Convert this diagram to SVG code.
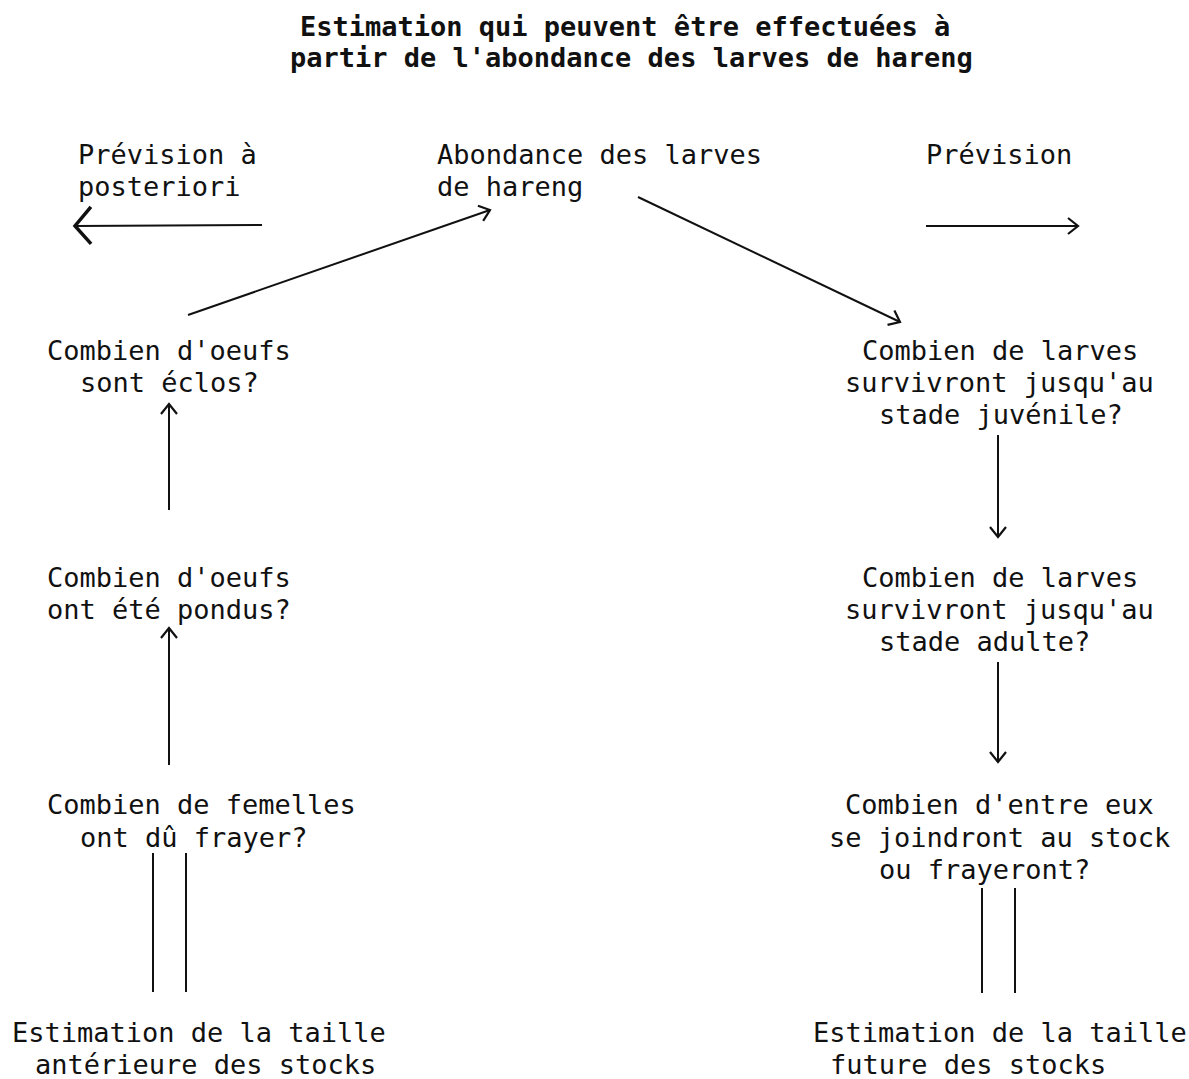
<svg xmlns="http://www.w3.org/2000/svg" width="1189" height="1079" viewBox="0 0 1189 1079">
<style>
text{font-family:"DejaVu Sans Mono","Liberation Mono",monospace;font-size:27px;fill:#111}
.title{font-weight:bold}
.c line,.c path{stroke:#111;stroke-width:2;fill:none}
</style>
<defs>
<marker id="ah" markerUnits="userSpaceOnUse" markerWidth="24" markerHeight="24" refX="12" refY="8" orient="auto" overflow="visible">
<path d="M2,0 L12,8 L2,16" fill="none" stroke="#111" stroke-width="2.2"/>
</marker>
<marker id="ahBig" markerUnits="userSpaceOnUse" markerWidth="30" markerHeight="40" refX="16" refY="18" orient="auto" overflow="visible">
<path d="M0,0 L16,18 L0,37" fill="none" stroke="#111" stroke-width="3.5"/>
</marker>
</defs>
<rect width="1189" height="1079" fill="#fff"/>
<g id="title">
<text class="title" x="300" y="36">Estimation qui peuvent être effectuées à</text>
<text class="title" x="290" y="67">partir de l'abondance des larves de hareng</text>
</g>
<g id="prevision-posteriori"><text x="78" y="164">Prévision à</text><text x="78" y="196">posteriori</text></g>
<g id="abondance"><text x="437" y="164">Abondance des larves</text><text x="437" y="196">de hareng</text></g>
<g id="prevision"><text x="926" y="164">Prévision</text></g>
<g id="oeufs-eclos"><text x="47" y="360">Combien d'oeufs</text><text x="80" y="392">sont éclos?</text></g>
<g id="oeufs-pondus"><text x="47" y="587">Combien d'oeufs</text><text x="47" y="619">ont été pondus?</text></g>
<g id="femelles"><text x="47" y="814">Combien de femelles</text><text x="80" y="847">ont dû frayer?</text></g>
<g id="taille-anterieure"><text x="12" y="1042">Estimation de la taille</text><text x="35" y="1074">antérieure des stocks</text></g>
<g id="larves-juvenile"><text x="862" y="360">Combien de larves</text><text x="845" y="392">survivront jusqu'au</text><text x="879" y="424">stade juvénile?</text></g>
<g id="larves-adulte"><text x="862" y="587">Combien de larves</text><text x="845" y="619">survivront jusqu'au</text><text x="879" y="651">stade adulte?</text></g>
<g id="stock"><text x="845" y="814">Combien d'entre eux</text><text x="829" y="847">se joindront au stock</text><text x="879" y="879">ou frayeront?</text></g>
<g id="taille-future"><text x="813" y="1042">Estimation de la taille</text><text x="830" y="1074">future des stocks</text></g>
<g id="connectors" class="c">
<line x1="262" y1="225" x2="75" y2="226" marker-end="url(#ahBig)"/>
<line x1="926" y1="226" x2="1078" y2="226" marker-end="url(#ah)"/>
<line x1="188" y1="315" x2="490" y2="210" marker-end="url(#ah)"/>
<line x1="638" y1="197" x2="900" y2="322" marker-end="url(#ah)"/>
<line x1="169" y1="510" x2="169" y2="404" marker-end="url(#ah)"/>
<line x1="169" y1="765" x2="169" y2="628" marker-end="url(#ah)"/>
<line x1="998" y1="435" x2="998" y2="537" marker-end="url(#ah)"/>
<line x1="998" y1="662" x2="998" y2="762" marker-end="url(#ah)"/>
<line x1="153" y1="853" x2="153" y2="992"/>
<line x1="186" y1="853" x2="186" y2="992"/>
<line x1="982" y1="888" x2="982" y2="993"/>
<line x1="1015" y1="888" x2="1015" y2="993"/>
</g>
</svg>
